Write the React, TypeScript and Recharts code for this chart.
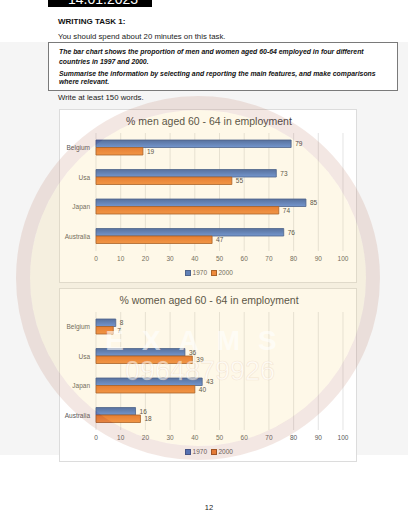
import React from 'react';
import { BarChart, Bar, XAxis, YAxis, CartesianGrid, LabelList } from 'recharts';

const countries = ['Belgium', 'Usa', 'Japan', 'Australia'];
const men1970 = [79, 73, 85, 76];
const men2000 = [19, 55, 74, 47];
const women1970 = [8, 36, 43, 16];
const women2000 = [7, 39, 40, 18];
const xTicks = [0, 10, 20, 30, 40, 50, 60, 70, 80, 90, 100];
const seriesNames = ['1970', '2000'];

const FONT = '"Liberation Sans", Arial, sans-serif';

function build(a: number[], b: number[]) {
  return countries.map((c, i) => ({ country: c, y1970: a[i], y2000: b[i] }));
}

const CHART_W = 298;
const CHART_H = 174;

function Panel({ id, title, a, b, top }: { id: string; title: string; a: number[]; b: number[]; top: number }) {
  const data = build(a, b);
  return (
    <div
      style={{
        position: 'absolute',
        left: 59,
        top,
        width: CHART_W,
        height: CHART_H,
        border: '1px solid #dcdcdc',
        boxSizing: 'border-box',
        background: '#ffffff',
      }}
    >
      <div
        style={{
          position: 'absolute',
          left: 0,
          top: 4,
          width: CHART_W,
          textAlign: 'center',
          fontFamily: FONT,
          fontSize: 10.5,
          color: '#404040',
          lineHeight: '14px',
        }}
      >
        {title}
      </div>
      <div style={{ position: 'absolute', left: -1, top: -1 }}>
        <BarChart
          width={CHART_W}
          height={CHART_H}
          data={data}
          layout="vertical"
          margin={{ top: 24, right: 14, left: 0, bottom: 12 }}
          barGap={0}
        >
          <defs>
            <linearGradient id={`blue-${id}`} x1="0" y1="0" x2="0" y2="1">
              <stop offset="0%" stopColor="#3a5fa6" />
              <stop offset="100%" stopColor="#5b8be0" />
            </linearGradient>
            <linearGradient id={`orange-${id}`} x1="0" y1="0" x2="0" y2="1">
              <stop offset="0%" stopColor="#e36f27" />
              <stop offset="100%" stopColor="#f08a3e" />
            </linearGradient>
          </defs>
          <CartesianGrid horizontal={false} stroke="#d9d9d9" strokeWidth={0.7} />
          <XAxis
            type="number"
            domain={[0, 100]}
            ticks={xTicks}
            interval={0}
            axisLine={false}
            tickLine={false}
            tickSize={3}
            tickMargin={2}
            height={20}
            tick={{ fontSize: 6.5, fill: '#595959', fontFamily: FONT }}
          />
          <YAxis
            type="category"
            dataKey="country"
            width={37}
            axisLine={false}
            tickLine={false}
            tickSize={0}
            tickMargin={6}
            tick={{ fontSize: 6.5, fill: '#595959', fontFamily: FONT }}
          />
          <Bar
            dataKey="y1970"
            name={seriesNames[0]}
            fill={`url(#blue-${id})`}
            stroke="#2f4f8f"
            strokeWidth={0.8}
            barSize={7.5}
            isAnimationActive={false}
          >
            <LabelList dataKey="y1970" position="right" offset={4} style={{ fontSize: 6.5, fill: '#404040', fontFamily: FONT }} />
          </Bar>
          <Bar
            dataKey="y2000"
            name={seriesNames[1]}
            fill={`url(#orange-${id})`}
            stroke="#9c4f1c"
            strokeWidth={0.8}
            barSize={7.5}
            isAnimationActive={false}
          >
            <LabelList dataKey="y2000" position="right" offset={4} style={{ fontSize: 6.5, fill: '#404040', fontFamily: FONT }} />
          </Bar>
        </BarChart>
      </div>
      <div
        style={{
          position: 'absolute',
          left: 0,
          top: 158,
          width: CHART_W,
          display: 'flex',
          justifyContent: 'center',
          alignItems: 'center',
          gap: 4,
          fontFamily: FONT,
          fontSize: 6.5,
          color: '#595959',
          lineHeight: '9px',
        }}
      >
        <span style={{ display: 'inline-flex', alignItems: 'center', gap: 1.5 }}>
          <span style={{ width: 4, height: 4, background: '#4472c4', border: '0.5px solid #2f4f8f', display: 'inline-block' }} />
          {seriesNames[0]}
        </span>
        <span style={{ display: 'inline-flex', alignItems: 'center', gap: 1.5 }}>
          <span style={{ width: 4, height: 4, background: '#ed7d31', border: '0.5px solid #9c4f1c', display: 'inline-block' }} />
          {seriesNames[1]}
        </span>
      </div>
    </div>
  );
}

export default function App() {
  return (
    <div
      style={{
        position: 'absolute',
        left: 0,
        top: 0,
        width: 417,
        height: 512,
        background: '#ffffff',
        overflow: 'hidden',
        fontFamily: FONT,
      }}
    >
      {/* scanned page grey area */}
      <div style={{ position: 'absolute', left: 0, top: 42, width: 408, height: 413, background: '#f5f5f5' }} />

      {/* date banner */}
      <div
        style={{
          position: 'absolute',
          left: 48,
          top: -9,
          width: 104,
          height: 16,
          background: '#000',
          color: '#fff',
          fontSize: 14,
          lineHeight: '16px',
          paddingLeft: 20,
          boxSizing: 'border-box',
        }}
      >
        14.01.2023
      </div>

      <div style={{ position: 'absolute', left: 58, top: 17, fontSize: 8, fontWeight: 'bold', color: '#111', lineHeight: '10px' }}>
        WRITING TASK 1:
      </div>
      <div style={{ position: 'absolute', left: 58, top: 32, fontSize: 7.8, color: '#222', lineHeight: '10px', whiteSpace: 'nowrap' }}>
        You should spend about 20 minutes on this task.
      </div>

      <div
        style={{
          position: 'absolute',
          left: 48,
          top: 42,
          width: 350,
          height: 49,
          border: '1px solid #7a7a7a',
          boxSizing: 'border-box',
          background: '#ffffff',
        }}
      />
      <div
        style={{
          position: 'absolute',
          left: 59,
          top: 47,
          width: 330,
          fontSize: 6.9,
          fontWeight: 'bold',
          fontStyle: 'italic',
          color: '#111',
          lineHeight: '9.5px',
        }}
      >
        The bar chart shows the proportion of men and women aged 60-64 employed in four different countries in 1997 and 2000.
      </div>
      <div
        style={{
          position: 'absolute',
          left: 59,
          top: 69.5,
          width: 330,
          fontSize: 6.9,
          fontWeight: 'bold',
          fontStyle: 'italic',
          color: '#111',
          lineHeight: '8px',
        }}
      >
        Summarise the information by selecting and reporting the main features, and make comparisons where relevant.
      </div>
      <div style={{ position: 'absolute', left: 58, top: 93, fontSize: 7.8, color: '#222', lineHeight: '10px', whiteSpace: 'nowrap' }}>
        Write at least 150 words.
      </div>

      <Panel id="men" title="% men aged 60 - 64 in employment" a={men1970} b={men2000} top={109} />
      <Panel id="women" title="% women aged 60 - 64 in employment" a={women1970} b={women2000} top={288} />

      <div style={{ position: 'absolute', left: 200, top: 503, width: 18, textAlign: 'center', fontSize: 7.5, color: '#222', lineHeight: '9px' }}>
        12
      </div>

      {/* watermark overlay */}
      <svg
        width={417}
        height={512}
        style={{ position: 'absolute', left: 0, top: 0, pointerEvents: 'none' }}
      >
        <circle cx={198} cy={278} r={168} fill="rgba(250,210,110,0.16)" />
        <circle cx={198} cy={278} r={175} fill="none" stroke="rgba(185,110,90,0.17)" strokeWidth={14} />
        <text
          x={200}
          y={350}
          textAnchor="middle"
          fontFamily={FONT}
          fontSize={28}
          fontWeight="bold"
          letterSpacing={18}
          fill="rgba(255,255,255,0.6)"
        >
          EXAMS
        </text>
        <text
          x={200}
          y={380}
          textAnchor="middle"
          fontFamily={FONT}
          fontSize={27}
          fill="rgba(255,255,255,0.55)"
          stroke="rgba(230,200,170,0.4)"
          strokeWidth={0.6}
        >
          0964879926
        </text>
      </svg>
    </div>
  );
}
